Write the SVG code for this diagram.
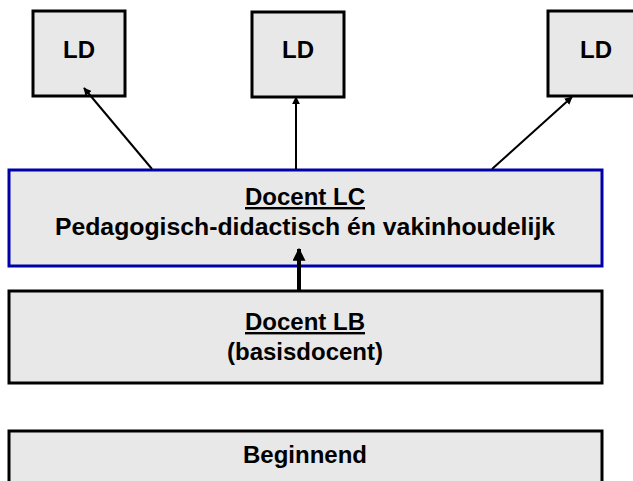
<svg xmlns="http://www.w3.org/2000/svg" width="633" height="481" viewBox="0 0 633 481">
  <style>
    .box { fill: #e8e8e8; stroke: #000; stroke-width: 3; }
    .blue { stroke: #0000a8; }
    .lbl { font-family: "Liberation Sans", Arial, sans-serif; font-weight: bold; font-size: 24px; fill: #000; text-anchor: middle; }
    .u { text-decoration: underline; }
    .conn { stroke: #000; stroke-width: 2; fill: none; }
    .thick { stroke-width: 4; }
  </style>
  <defs>
    <marker id="ah" viewBox="0 0 10 10" refX="9" refY="5" markerWidth="8" markerHeight="8" markerUnits="userSpaceOnUse" orient="auto">
      <path d="M0,0 L10,5 L0,10 z" fill="#000"/>
    </marker>
    <marker id="ahBig" viewBox="0 0 10 10" refX="9" refY="5" markerWidth="14" markerHeight="13" markerUnits="userSpaceOnUse" orient="auto">
      <path d="M0,0 L10,5 L0,10 z" fill="#000"/>
    </marker>
  </defs>

  <g id="ld-left">
    <rect class="box" x="33" y="11" width="92" height="85"/>
    <text class="lbl" x="79" y="58">LD</text>
  </g>
  <g id="ld-middle">
    <rect class="box" x="252" y="12" width="92" height="85"/>
    <text class="lbl" x="298" y="58">LD</text>
  </g>
  <g id="ld-right">
    <rect class="box" x="548" y="11" width="92" height="85"/>
    <text class="lbl" x="596" y="58">LD</text>
  </g>

  <g id="docent-lc">
    <rect class="box blue" x="9" y="170" width="593" height="96"/>
    <text class="lbl u" x="305" y="205">Docent LC</text>
    <text class="lbl" x="305" y="235" style="font-size:24.8px">Pedagogisch-didactisch én vakinhoudelijk</text>
  </g>

  <g id="docent-lb">
    <rect class="box" x="9" y="291" width="593" height="92"/>
    <text class="lbl u" x="305" y="330">Docent LB</text>
    <text class="lbl" x="305" y="360">(basisdocent)</text>
  </g>

  <g id="beginnend">
    <rect class="box" x="9" y="431" width="593" height="60"/>
    <text class="lbl" x="305" y="463">Beginnend</text>
  </g>

  <g id="connectors">
    <line class="conn" x1="152" y1="169" x2="84" y2="88" marker-end="url(#ah)"/>
    <line class="conn" x1="296" y1="169" x2="296" y2="97" marker-end="url(#ah)"/>
    <line class="conn" x1="492" y1="169" x2="572" y2="97" marker-end="url(#ah)"/>
    <line class="conn thick" x1="299" y1="290" x2="299" y2="249" marker-end="url(#ahBig)"/>
  </g>
</svg>
